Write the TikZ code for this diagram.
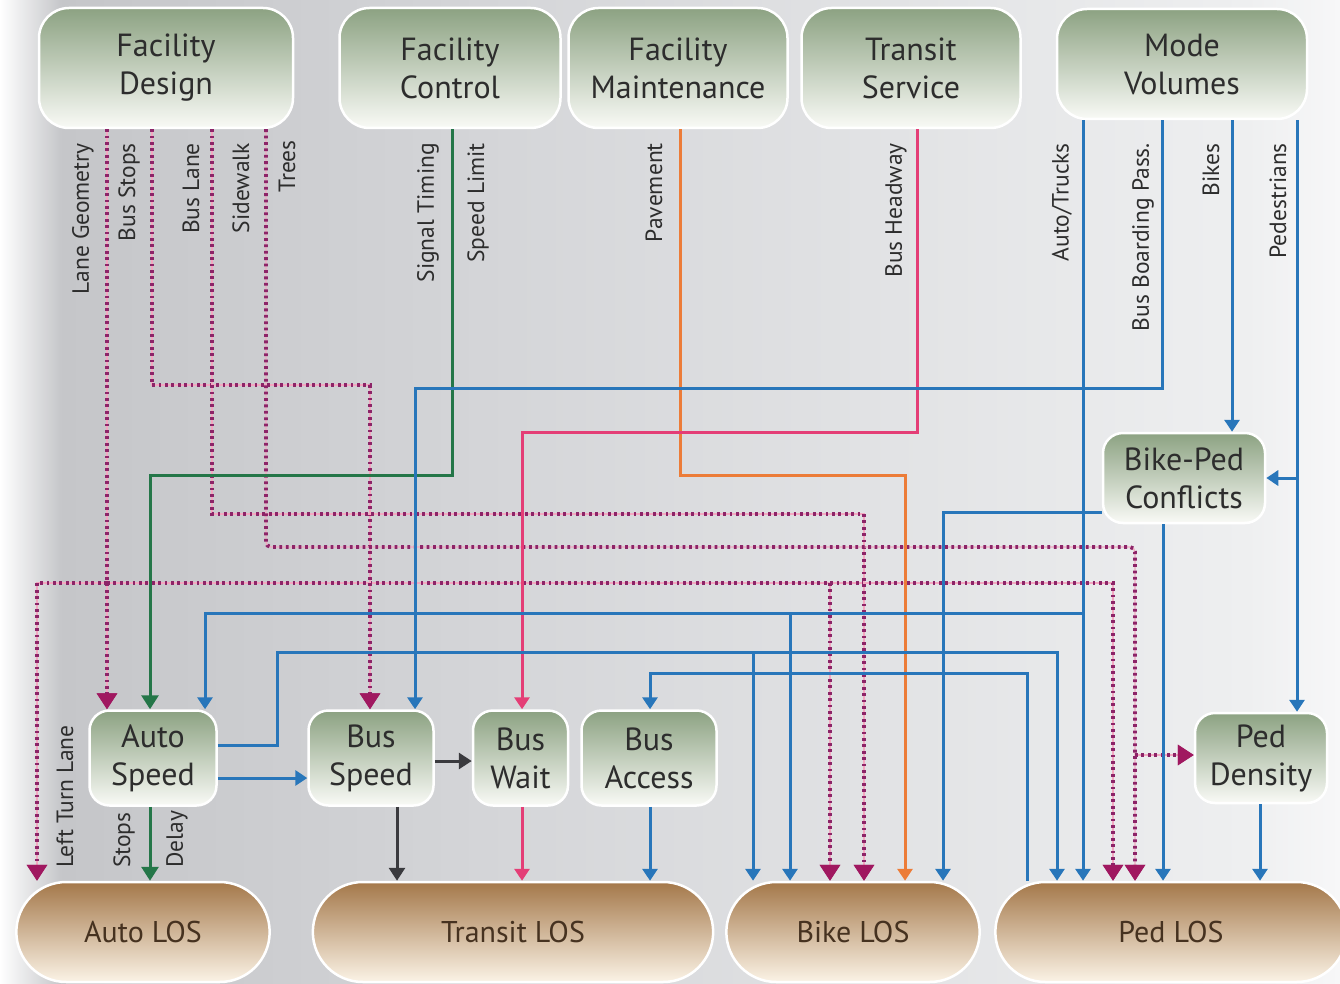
\documentclass[tikz,border=0pt]{standalone}
\usepackage{fontspec}
\setmainfont{PT Sans}
\usetikzlibrary{arrows.meta,positioning,shapes.misc}

\definecolor{boxtop}{RGB}{140,162,130}
\definecolor{boxbot}{RGB}{249,250,246}
\definecolor{lostop}{RGB}{164,120,74}
\definecolor{losbot}{RGB}{251,243,230}
\definecolor{inktext}{RGB}{45,45,45}
\definecolor{lostext}{RGB}{70,50,32}
\definecolor{linkblue}{RGB}{40,118,186}
\definecolor{linkgreen}{RGB}{36,118,72}
\definecolor{linkorange}{RGB}{236,124,56}
\definecolor{linkpink}{RGB}{228,62,118}
\definecolor{linkdot}{RGB}{140,36,104}
\definecolor{linkdothead}{RGB}{160,24,96}
\definecolor{linkgray}{RGB}{58,58,62}
\definecolor{bgA}{RGB}{197,198,201}
\definecolor{bgB}{RGB}{212,213,216}
\definecolor{bgC}{RGB}{238,239,240}
\definecolor{bgD}{RGB}{247,247,248}
\pgfdeclarehorizontalshading{bgshade}{100bp}{color(0bp)=(white); color(25bp)=(white); color(27.3bp)=(bgA); color(43bp)=(bgB); color(71.5bp)=(bgC); color(75bp)=(bgD); color(100bp)=(bgD)}

\begin{document}
\begin{tikzpicture}[
  x=1pt, y=-1pt,
  topbox/.style={rectangle, rounded corners=30pt, draw=white, line width=2.5pt,
    top color=boxtop, bottom color=boxbot, text=inktext, align=center,
    minimum height=120pt, font=\fontsize{32}{38}\selectfont},
  midbox/.style={rectangle, rounded corners=20pt, draw=white, line width=2.5pt,
    top color=boxtop, bottom color=boxbot, text=inktext, align=center,
    minimum height=95pt, font=\fontsize{32}{38}\selectfont},
  los/.style={rounded rectangle, draw=white, line width=2.5pt,
    top color=lostop, bottom color=losbot, text=lostext,
    minimum height=100pt, font=\fontsize{30}{34}\selectfont},
  lbl/.style={rotate=90, anchor=east, inner sep=0pt, text=inktext,
    font=\fontsize{23.5}{26}\selectfont},
  bline/.style={draw=linkblue, line width=3pt, -{Triangle[width=15pt,length=12pt]}},
  gline/.style={draw=linkgreen, line width=3pt, -{Triangle[width=17pt,length=14pt]}},
  oline/.style={draw=linkorange, line width=3pt, -{Triangle[width=15pt,length=12pt]}},
  pline/.style={draw=linkpink, line width=3pt, -{Triangle[width=15pt,length=12pt]}},
  kline/.style={draw=linkgray, line width=3pt, -{Triangle[width=16pt,length=13pt]}},
  dline/.style={draw=linkdot, line width=3.8pt, dash pattern=on 2.8pt off 3.6pt,
    preaction={draw=linkpink!45, line width=1.4pt, solid},
    -{Triangle[width=20pt,length=16pt,color=linkdothead]}}
]

\useasboundingbox (0,0) rectangle (1340,984);
\fill[shading=bgshade] (0,0) rectangle (1340,984);

% sources
\node[topbox, minimum width=254pt] (fd) at (166,68) {Facility\\Design};
\node[topbox, minimum width=221pt] (fc) at (450,68) {Facility\\Control};
\node[topbox, minimum width=219pt] (fm) at (678,68) {Facility\\Maintenance};
\node[topbox, minimum width=219pt] (ts) at (911,68) {Transit\\Service};
\node[topbox, minimum width=250pt, minimum height=110pt] (mv) at (1182,64) {Mode\\Volumes};

% intermediate measures
\node[midbox, minimum width=127pt] (as) at (153,758) {Auto\\Speed};
\node[midbox, minimum width=125pt] (bs) at (371,758) {Bus\\Speed};
\node[midbox, minimum width=95pt, right=37pt of bs] (bw) {Bus\\Wait};
\node[midbox, minimum width=135pt, right=11pt of bw] (ba) {Bus\\Access};
\node[midbox, minimum width=162pt, minimum height=90pt] (bpc) at (1184,478) {Bike-Ped\\Conflicts};
\node[midbox, minimum width=132pt, minimum height=90pt] (pd) at (1261,758) {Ped\\Density};

% level of service
\node[los, minimum width=260pt] (alos) at (143,932) {Auto LOS};
\node[los, minimum width=407pt] (tlos) at (513,932) {Transit LOS};
\node[los, minimum width=260pt] (blos) at (853,932) {Bike LOS};
\node[los, minimum width=358pt] (plos) at (1171,932) {Ped LOS};

% line labels
\node[lbl] (lLane) at (83,143) {Lane Geometry};
\node[lbl] (lStops) at (129,143) {Bus Stops};
\node[lbl] (lBusLane) at (191,143) {Bus Lane};
\node[lbl] (lWalk) at (241,143) {Sidewalk};
\node[lbl] (lTrees) at (287,140) {Trees};
\node[lbl] (lSignal) at (428,143) {Signal Timing};
\node[lbl] (lLimit) at (478,143) {Speed Limit};
\node[lbl] (lPave) at (654,143) {Pavement};
\node[lbl] (lHead) at (896,143) {Bus Headway};
\node[lbl] (lAuto) at (1062,143) {Auto/Trucks};
\node[lbl] (lBoard) at (1143,143) {Bus Boarding Pass.};
\node[lbl] (lBikes) at (1211,143) {Bikes};
\node[lbl] (lPeds) at (1278,143) {Pedestrians};
\node[lbl, anchor=west] (lLeft) at (65,868) {Left Turn Lane};
\node[lbl, anchor=west] (lAStops) at (124,868) {Stops};
\node[lbl, anchor=west] (lDelay) at (177,868) {Delay};

% junctions
\coordinate (lgj) at (107,583);
\coordinate (atj) at (1083,613);
\coordinate (atk) at (790,613);
\coordinate (asj) at (753,652);
\coordinate (bcj) at (830,583);
\coordinate (pdj) at (1135,755);
\coordinate (pej) at (1297,478);

% facility design (dotted)
\draw[dline] (fd.south -| 107,0) -- (as.north -| 107,0);
\draw[dline] (lgj) -| (alos.north -| 37,0);
\draw[dline] (lgj) -| (plos.north -| 1113,0);
\draw[dline] (bcj) -- (blos.north -| 830,0);
\draw[dline] (fd.south -| 152,0) |- (370,385) -- (bs.north -| 370,0);
\draw[dline] (fd.south -| 212,0) |- (864,514) -- (blos.north -| 864,0);
\draw[dline, rounded corners=5pt] (fd.south -| 266,0) |- (1135,547) -- (plos.north -| 1135,0);
\draw[dline] (pdj) -- (pd.west |- pdj);

% facility control, maintenance, transit service
\draw[gline] (fc.south -| 452,0) |- (150,475) -- (as.north -| 150,0);
\draw[oline] (fm.south -| 680,0) |- (905,475) -- (blos.north -| 905,0);
\draw[pline] (ts.south -| 917,0) |- (522,432) -- (bw.north -| 522,0);

% mode volumes
\draw[bline] (mv.south -| 1083,0) -- (plos.north -| 1083,0);
\draw[bline] (atj) -| (as.north -| 205,0);
\draw[bline] (atk) -- (blos.north -| 790,0);
\draw[bline] (mv.south -| 1162,0) |- (415,388) -- (bs.north -| 415,0);
\draw[bline] (mv.south -| 1232,0) -- (bpc.north -| 1232,0);
\draw[bline] (mv.south -| 1297,0) -- (pd.north -| 1297,0);
\draw[bline] (pej) -- (bpc.east);

% intermediate links
\draw[bline] (as.east |- 0,745) -| (277,652) -| (plos.north -| 1057,0);
\draw[bline] (asj) -- (blos.north -| 753,0);
\draw[bline] (as.east |- 0,778) -- (bs.west |- 0,778);
\draw[kline] (bs.east |- 0,761) -- (bw.west |- 0,761);
\draw[kline] (bs.south -| 397,0) -- (tlos.north -| 397,0);
\draw[pline] (bw.south -| 522,0) -- (tlos.north -| 522,0);
\draw[bline] (ba.south -| 650,0) -- (tlos.north -| 650,0);
\draw[bline] (plos.north -| 1027,0) |- (650,673) -- (ba.north -| 650,0);
\draw[bline] (bpc.west |- 0,512) -| (blos.north -| 943,0);
\draw[bline] (bpc.south -| 1163,0) -- (plos.north -| 1163,0);
\draw[bline] (pd.south -| 1260,0) -- (plos.north -| 1260,0);
\draw[gline] (as.south -| 150,0) -- (alos.north -| 150,0);

\end{tikzpicture}
\end{document}
